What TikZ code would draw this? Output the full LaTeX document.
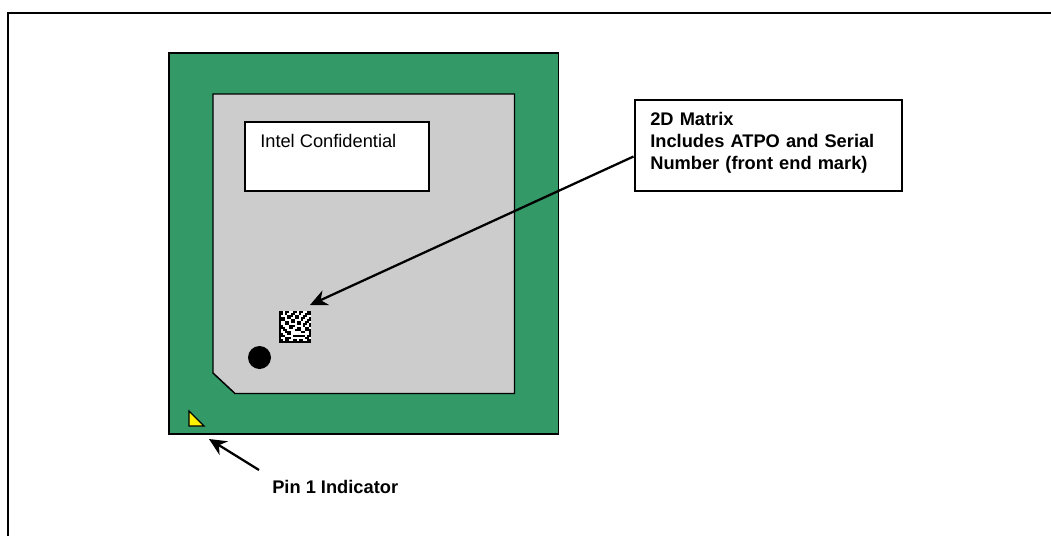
\documentclass[tikz,border=0pt]{standalone}
\usepackage{fontspec}
\setmainfont{Liberation Sans}
\usetikzlibrary{arrows.meta}
\definecolor{pkggreen}{HTML}{339966}
\definecolor{diegray}{HTML}{CCCCCC}
\tikzset{
  outline/.style={draw=black,line width=1.1pt},
  leader/.style={-{Stealth[length=13pt,width=12pt]},line width=1.7pt},
  labeltext/.style={font=\fontsize{13.7}{16.7}\selectfont,inner sep=0pt},
}
\begin{document}
\begin{tikzpicture}[x=.75pt,y=-.75pt]
    \useasboundingbox (0,0) rectangle (1051,536);
    \draw[line width=1.6pt] (8,536) |- (1051,13);
    % package and die
    \draw[outline,fill=pkggreen] (169,53) rectangle (558.5,434);
    \draw[outline,fill=diegray] (213,94) -- (514.5,94) -- (514.5,393.5) -- (235,393.5) -- (213,373) -- cycle;
    \draw[outline,fill=white] (245,122) rectangle (429,191);
    \node[labeltext,anchor=base west] (conftext) at (260,147.5) {Intel Confidential};
    % marks
    \fill[black] (259.5,357.5) circle (11.5);
    \draw[line width=.8pt,fill=yellow] (189,411) -- (189,426) -- (204,426) -- cycle;
    % 2D matrix, black modules of each row
    \fill[white] (279,311) rectangle (311,343);
    \foreach \j/\cols in {
      0/{0,1,3,4,7,8,10,11,14,15},
      1/{0,1,3,6,7,10,13,14,15},
      2/{0,4,5,6,8,9,12,13},
      3/{0,1,2,4,5,8,9,11,12,15},
      4/{0,1,2,6,7,11,14,15},
      5/{0,3,4,6,7,9,10,13,14},
      6/{0,3,4,9,10,12,13,15},
      7/{0,1,5,6,7,12,15},
      8/{0,1,2,5,6,9,10,13,14},
      9/{0,2,3,8,9,10,13,14,15},
      10/{0,3,4,5,11,12,15},
      11/{0,1,4,5,15},
      12/{0,1,2,7,8,9,10,11,12,14,15},
      13/{0,3,4,5,13,14},
      14/{0,1,3,4,7,8,10,11,14,15},
      15/{0,1,2,3,4,5,6,7,8,9,10,11,12,13,14,15}}
      \foreach \i in \cols
        \fill[black] (279+2*\i,311+2*\j) rectangle ++(2,2);
    \coordinate (mtxtip) at (310,305);
    % callouts
    \node[draw=black,line width=1.5pt,fill=white,labeltext,minimum width=200pt,minimum height=68pt,text width=177.5pt,align=left,inner xsep=11.5pt,anchor=north west] (callout) at (634,99)
      {\bfseries 2D Matrix\\Includes ATPO and Serial\\Number (front end mark)\\[-10pt]\mbox{}};
    \coordinate (calloutfoot) at (633.5,156.5);
    \draw[leader] (calloutfoot) -- (mtxtip);
    \node[labeltext,anchor=base west,font=\fontsize{13.7}{16.7}\selectfont\bfseries] (pinlabel) at (272,493.5) {Pin 1 Indicator};
    \coordinate (pinfoot) at (259,470);
    \coordinate (pintip) at (209,439);
    \draw[leader] (pinfoot) -- (pintip);
\end{tikzpicture}
\end{document}
